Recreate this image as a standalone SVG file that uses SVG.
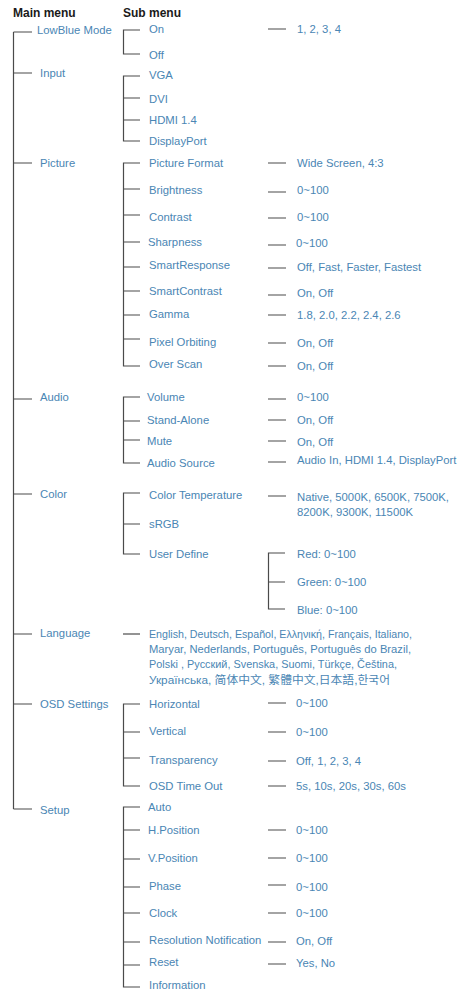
<svg xmlns="http://www.w3.org/2000/svg" width="471" height="991" viewBox="0 0 471 991">
<style>
text{font-family:"Liberation Sans",Arial,"Noto Sans CJK SC",sans-serif;font-size:11.3px;fill:#4a86b4}
.h{font-weight:bold;fill:#1a1a1a;font-size:12px}
.c path{fill:none;stroke:#4a4a4a;stroke-width:1.2}
</style>
<rect width="471" height="991" fill="#fff"/>
<g id="headers"><text class="h" x="13" y="17">Main menu</text><text class="h" x="123" y="17">Sub menu</text></g>
<g class="c" id="connectors">
<path d="M13.5 32V809"/>
<path d="M13.5 32H32M13.5 73H32M13.5 163H32M13.5 399H32M13.5 494H32M13.5 634H32M13.5 704H32M13.5 809H32"/>
<path d="M140 30H123.5V54H140"/>
<path d="M140 76H123.5V141H140M123.5 98H140M123.5 120H140"/>
<path d="M140 163H123.5V366H140M123.5 189H140M123.5 215H140M123.5 242H140M123.5 267H140M123.5 291H140M123.5 315H140M123.5 339H140"/>
<path d="M140 397H123.5V463H140M123.5 421H140M123.5 440H140"/>
<path d="M140 493H123.5V554H140M123.5 524H140"/>
<path d="M123 634H140"/>
<path d="M140 704H123.5V786H140M123.5 732H140M123.5 758H140"/>
<path d="M140 807H123.5V987H140M123.5 830H140M123.5 859H140M123.5 887H140M123.5 913H140M123.5 942H140M123.5 965H140"/>
<path d="M268 29H286M268 163H286M268 192H286M268 218H286M268 245H286M268 268H286M268 295H286M268 315H286M268 343H286M268 366H286"/>
<path d="M268 399H286M268 420H286M268 441H286M268 462H286M268 496H286"/>
<path d="M285 553H268.5V609H285M268.5 582H285"/>
<path d="M268 703H286M268 732H286M268 761H286M268 786H286"/>
<path d="M268 830H286M268 858H286M268 885H286M268 913H286M268 942H286M268 964H286"/>
</g>
<g id="main">
<text x="37" y="34">LowBlue Mode</text>
<text x="40" y="77">Input</text>
<text x="40" y="167">Picture</text>
<text x="40" y="401">Audio</text>
<text x="40" y="498">Color</text>
<text x="40" y="637">Language</text>
<text x="40" y="708">OSD Settings</text>
<text x="40" y="814">Setup</text>
</g>
<g id="sub">
<text x="149" y="33">On</text>
<text x="149" y="59">Off</text>
<text x="149" y="79">VGA</text>
<text x="149" y="103">DVI</text>
<text x="149" y="124">HDMI 1.4</text>
<text x="149" y="145">DisplayPort</text>
<text x="149" y="167">Picture Format</text>
<text x="149" y="194">Brightness</text>
<text x="149" y="221">Contrast</text>
<text x="148" y="246">Sharpness</text>
<text x="149" y="269">SmartResponse</text>
<text x="149" y="295">SmartContrast</text>
<text x="149" y="318">Gamma</text>
<text x="149" y="346">Pixel Orbiting</text>
<text x="149" y="368">Over Scan</text>
<text x="147" y="401">Volume</text>
<text x="147" y="424">Stand-Alone</text>
<text x="147" y="445">Mute</text>
<text x="147" y="467">Audio Source</text>
<text x="149" y="499">Color Temperature</text>
<text x="149" y="528">sRGB</text>
<text x="149" y="558">User Define</text>
<text x="149" y="708">Horizontal</text>
<text x="149" y="735">Vertical</text>
<text x="149" y="764">Transparency</text>
<text x="149" y="790">OSD Time Out</text>
<text x="148" y="811">Auto</text>
<text x="148" y="834">H.Position</text>
<text x="148" y="862">V.Position</text>
<text x="149" y="890">Phase</text>
<text x="149" y="917">Clock</text>
<text x="149" y="944">Resolution Notification</text>
<text x="149" y="966">Reset</text>
<text x="149" y="989">Information</text>
</g>
<g id="language-values">
<text x="149" y="638" textLength="263" lengthAdjust="spacingAndGlyphs">English, Deutsch, Español, Ελληνική, Français, Italiano,</text>
<text x="149" y="653" textLength="262" lengthAdjust="spacingAndGlyphs">Maryar, Nederlands, Português, Português do Brazil,</text>
<text x="149" y="668" textLength="248" lengthAdjust="spacingAndGlyphs">Polski , Русский, Svenska, Suomi, Türkçe, Čeština,</text>
<text x="149" y="684" textLength="241" lengthAdjust="spacingAndGlyphs">Українська, 简体中文, 繁體中文,日本語,한국어</text>
</g>
<g id="values">
<text x="297" y="33">1, 2, 3, 4</text>
<text x="297" y="167">Wide Screen, 4:3</text>
<text x="297" y="194">0~100</text>
<text x="297" y="221">0~100</text>
<text x="296" y="247">0~100</text>
<text x="297" y="271">Off, Fast, Faster, Fastest</text>
<text x="297" y="297">On, Off</text>
<text x="297" y="319">1.8, 2.0, 2.2, 2.4, 2.6</text>
<text x="297" y="347">On, Off</text>
<text x="297" y="370">On, Off</text>
<text x="297" y="401">0~100</text>
<text x="297" y="424">On, Off</text>
<text x="297" y="446">On, Off</text>
<text x="297" y="464">Audio In, HDMI 1.4, DisplayPort</text>
<text x="297" y="501">Native, 5000K, 6500K, 7500K,</text>
<text x="297" y="516">8200K, 9300K, 11500K</text>
<text x="297" y="558">Red: 0~100</text>
<text x="297" y="586">Green: 0~100</text>
<text x="297" y="614">Blue: 0~100</text>
<text x="296" y="707">0~100</text>
<text x="296" y="736">0~100</text>
<text x="296" y="765">Off, 1, 2, 3, 4</text>
<text x="296" y="790">5s, 10s, 20s, 30s, 60s</text>
<text x="296" y="834">0~100</text>
<text x="296" y="862">0~100</text>
<text x="296" y="891">0~100</text>
<text x="296" y="917">0~100</text>
<text x="296" y="945">On, Off</text>
<text x="296" y="967">Yes, No</text>
</g>
</svg>
